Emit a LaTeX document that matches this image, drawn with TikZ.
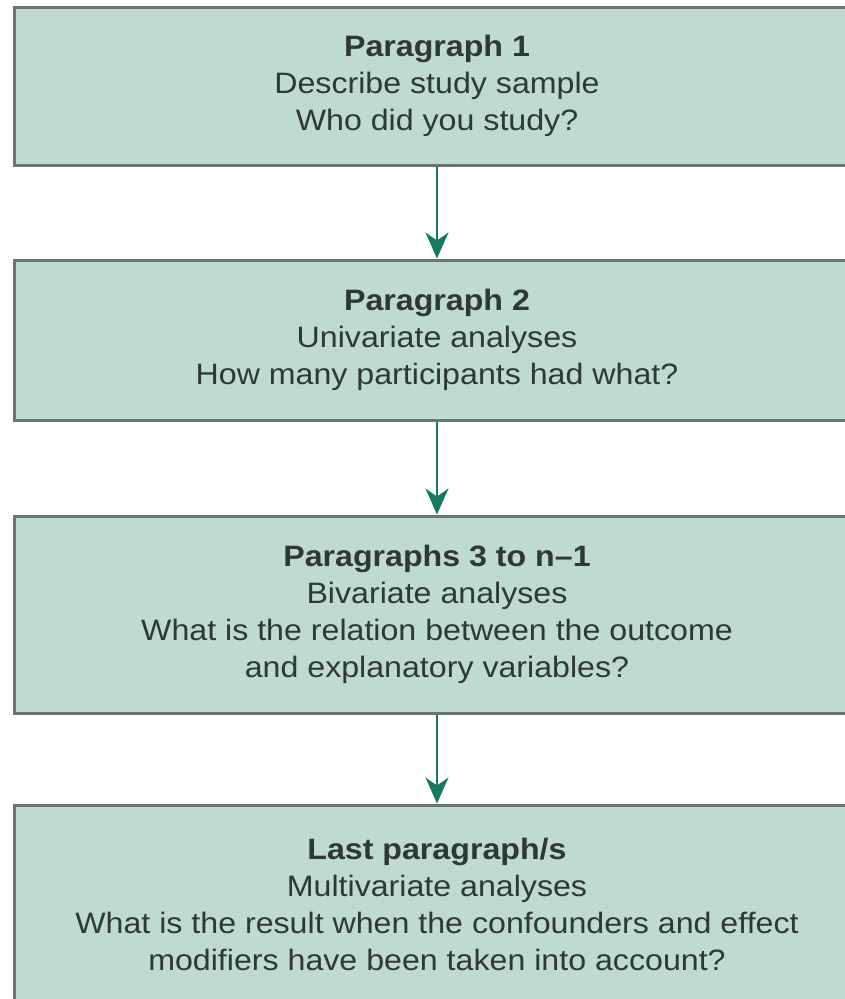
\documentclass[tikz,border=0pt]{standalone}
\usepackage{fontspec}
\setmainfont[FakeStretch=1.09]{Liberation Sans}
\usetikzlibrary{arrows.meta}
\definecolor{boxfill}{HTML}{BFDAD3}
\definecolor{boxline}{HTML}{6B7572}
\definecolor{txt}{HTML}{2E3835}
\definecolor{arr}{HTML}{177A5F}
\begin{document}
\begin{tikzpicture}[x=1pt,y=-1pt,
  stagebox/.style={draw=boxline, line width=3pt, fill=boxfill, text=txt,
    minimum width=846pt, align=center, inner sep=0pt,
    font=\fontsize{29.5}{37}\selectfont},
  flow/.style={draw=arr, line width=1.8pt,
    -{Stealth[length=26pt,width=23pt,inset=8pt]}}]
\useasboundingbox (0,0) rectangle (844,999);
\fill[white] (0,0) rectangle (844,999);
\node[stagebox, minimum height=158pt] (p1) at (437,86)
  {\textbf{Paragraph 1}\\Describe study sample\\Who did you study?};
\node[stagebox, minimum height=160pt] (p2) at (437,340)
  {\textbf{Paragraph 2}\\Univariate analyses\\How many participants had what?};
\node[stagebox, minimum height=197pt] (p3) at (437,614.5)
  {\textbf{Paragraphs 3 to n–1}\\Bivariate analyses\\What is the relation between the outcome\\and explanatory variables?};
\node[stagebox, minimum height=198pt] (p4) at (437,904)
  {\textbf{Last paragraph/s}\\Multivariate analyses\\What is the result when the confounders and effect\\modifiers have been taken into account?};
\draw[flow] (p1.south) -- (p2.north);
\draw[flow] (p2.south) -- (p3.north);
\draw[flow] (p3.south) -- (p4.north);
\end{tikzpicture}
\end{document}
